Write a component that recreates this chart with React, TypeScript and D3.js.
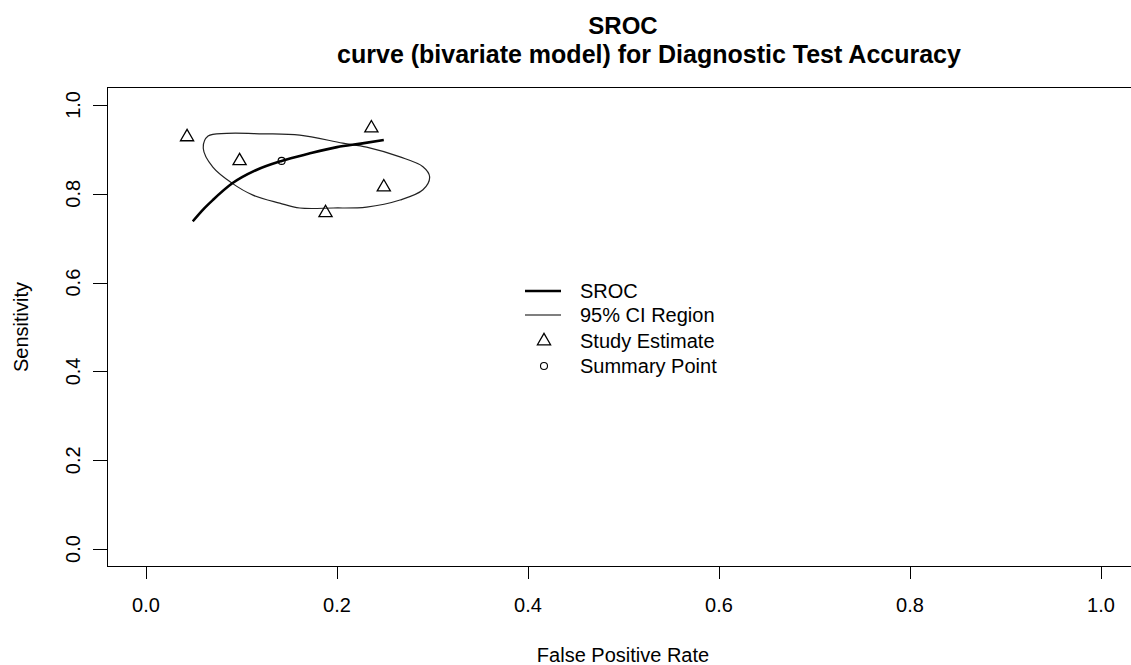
import * as d3 from 'd3'
import { useRef, useEffect } from 'react'

// study estimates (false positive rate, sensitivity)
const studyFpr = [0.043, 0.098, 0.236, 0.249, 0.188]
const studySens = [0.928, 0.874, 0.948, 0.815, 0.757]

// summary point
const summaryFpr = 0.142
const summarySens = 0.874

// SROC curve
const srocFpr = [0.049, 0.06, 0.07, 0.09, 0.115, 0.142, 0.17, 0.2, 0.225, 0.249]
const srocSens = [0.738, 0.765, 0.786, 0.823, 0.853, 0.874, 0.89, 0.905, 0.913, 0.921]

// 95% confidence region outline
const ciFpr = [0.060, 0.065, 0.0845, 0.1225, 0.161, 0.206, 0.231, 0.266, 0.290, 0.297,
    0.290, 0.266, 0.231, 0.196, 0.161, 0.140, 0.112, 0.090, 0.070]
const ciSens = [0.902, 0.930, 0.936, 0.935, 0.932, 0.914, 0.905, 0.883, 0.861, 0.838,
    0.809, 0.786, 0.770, 0.768, 0.768, 0.779, 0.797, 0.824, 0.860]

const ticks = [0, 0.2, 0.4, 0.6, 0.8, 1.0]
const legendLabels = ['SROC', '95% CI Region', 'Study Estimate', 'Summary Point']

const font = 'Liberation Sans, Arial, sans-serif'

export default function App() {
    const svgRef = useRef(null)

    useEffect(() => {
        const svg = d3.select(svgRef.current)
        svg.selectAll('*').remove()

        const x = d3.scaleLinear().domain([-0.04, 1.04]).range([107.8, 1139.2])
        const y = d3.scaleLinear().domain([-0.04, 1.04]).range([566.8, 87.2])

        // plot box
        svg.append('rect')
            .attr('x', 107.5).attr('y', 87.5)
            .attr('width', 1032).attr('height', 479)
            .attr('fill', 'none').attr('stroke', '#000').attr('stroke-width', 1)

        // x axis
        const xa = svg.append('g')
        xa.selectAll('line').data(ticks).join('line')
            .attr('x1', d => Math.round(x(d)) + 0.5).attr('x2', d => Math.round(x(d)) + 0.5)
            .attr('y1', 567).attr('y2', 579)
            .attr('stroke', '#000')
        xa.selectAll('text').data(ticks).join('text')
            .attr('x', d => x(d)).attr('y', 612)
            .attr('text-anchor', 'middle')
            .attr('font-family', font).attr('font-size', 20)
            .text(d => d.toFixed(1))

        // y axis
        const ya = svg.append('g')
        ya.selectAll('line').data(ticks).join('line')
            .attr('x1', 93).attr('x2', 107)
            .attr('y1', d => Math.round(y(d)) + 0.5).attr('y2', d => Math.round(y(d)) + 0.5)
            .attr('stroke', '#000')
        ya.selectAll('text').data(ticks).join('text')
            .attr('transform', d => `translate(80,${y(d)}) rotate(-90)`)
            .attr('text-anchor', 'middle')
            .attr('font-family', font).attr('font-size', 20)
            .text(d => d.toFixed(1))

        // axis titles
        svg.append('text')
            .attr('x', 623).attr('y', 662)
            .attr('text-anchor', 'middle')
            .attr('font-family', font).attr('font-size', 20)
            .text('False Positive Rate')
        svg.append('text')
            .attr('transform', 'translate(28,327) rotate(-90)')
            .attr('text-anchor', 'middle')
            .attr('font-family', font).attr('font-size', 20)
            .text('Sensitivity')

        // title
        svg.append('text')
            .attr('x', 623).attr('y', 34)
            .attr('text-anchor', 'middle')
            .attr('font-family', font).attr('font-size', 24).attr('font-weight', 'bold')
            .text('SROC')
        svg.append('text')
            .attr('x', 649).attr('y', 63)
            .attr('text-anchor', 'middle')
            .attr('font-family', font).attr('font-size', 25).attr('font-weight', 'bold')
            .text('curve (bivariate model) for Diagnostic Test Accuracy')

        // confidence region
        const ci = ciFpr.map((f, i) => [f, ciSens[i]])
        svg.append('path')
            .attr('d', d3.line().x(d => x(d[0])).y(d => y(d[1])).curve(d3.curveCatmullRomClosed)(ci))
            .attr('fill', 'none').attr('stroke', '#222').attr('stroke-width', 1.2)

        // SROC curve
        const sroc = srocFpr.map((f, i) => [f, srocSens[i]])
        svg.append('path')
            .attr('d', d3.line().x(d => x(d[0])).y(d => y(d[1])).curve(d3.curveMonotoneX)(sroc))
            .attr('fill', 'none').attr('stroke', '#000').attr('stroke-width', 2.6)

        const tri = d3.symbol().type(d3.symbolTriangle).size(75)

        // study estimates
        svg.selectAll('.study').data(studyFpr).join('path')
            .attr('class', 'study')
            .attr('d', tri)
            .attr('transform', (d, i) => `translate(${x(d)},${y(studySens[i])})`)
            .attr('fill', 'none').attr('stroke', '#000').attr('stroke-width', 1.3)

        // summary point
        svg.append('circle')
            .attr('cx', x(summaryFpr)).attr('cy', y(summarySens)).attr('r', 3.5)
            .attr('fill', 'none').attr('stroke', '#000').attr('stroke-width', 1.1)

        // legend
        const lg = svg.append('g')
        const rows = [291, 315, 341, 366]
        lg.append('line').attr('x1', 525).attr('x2', 561).attr('y1', rows[0]).attr('y2', rows[0])
            .attr('stroke', '#000').attr('stroke-width', 2.6)
        lg.append('line').attr('x1', 525).attr('x2', 561).attr('y1', rows[1]).attr('y2', rows[1])
            .attr('stroke', '#000').attr('stroke-width', 1.2)
        lg.append('path').attr('d', tri).attr('transform', `translate(544,${rows[2]})`)
            .attr('fill', 'none').attr('stroke', '#000').attr('stroke-width', 1.3)
        lg.append('circle').attr('cx', 544).attr('cy', rows[3]).attr('r', 3.5)
            .attr('fill', 'none').attr('stroke', '#000').attr('stroke-width', 1.1)
        lg.selectAll('text').data(legendLabels).join('text')
            .attr('x', 580).attr('y', (d, i) => rows[i] + 7)
            .attr('font-family', font).attr('font-size', 20)
            .text(d => d)
    }, [])

    return (
        <svg ref={svgRef} width={1131} height={665}
            style={{ display: 'block', position: 'absolute', left: 0, top: 0, background: '#fff' }}></svg>
    )
}
